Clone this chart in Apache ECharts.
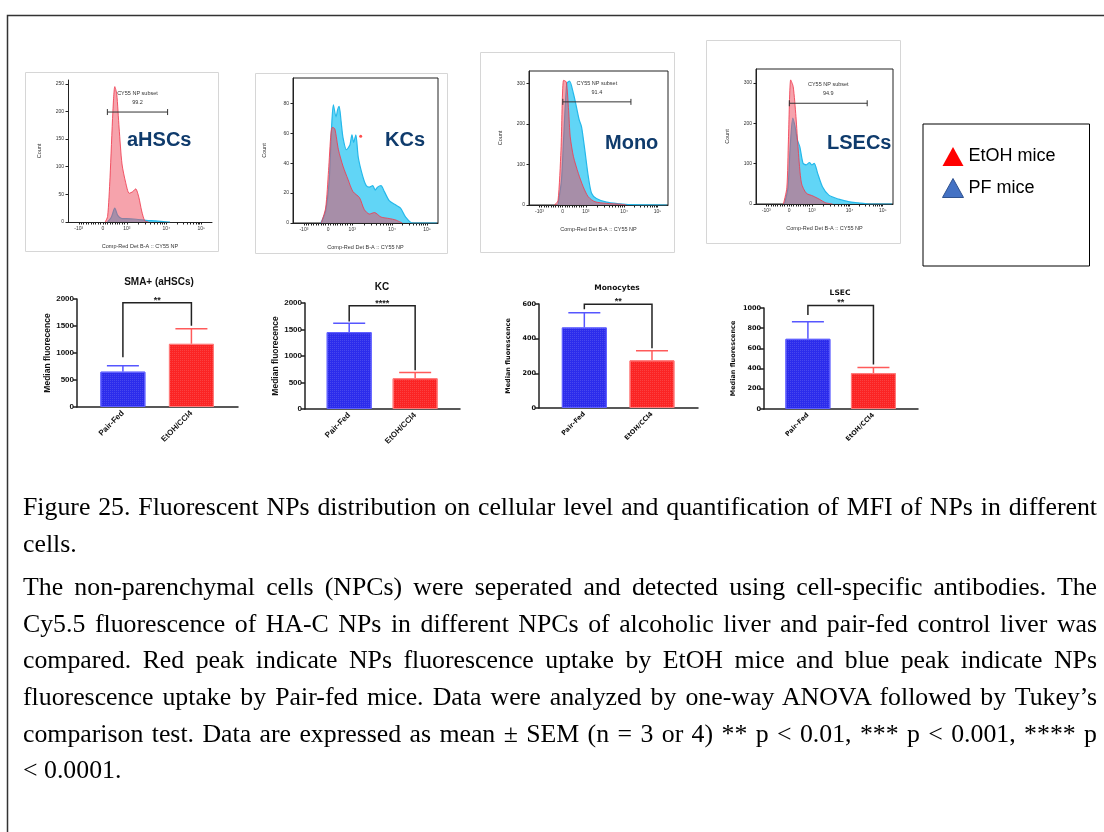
<!DOCTYPE html>
<html>
<head>
<meta charset="utf-8">
<script src="https://cdn.jsdelivr.net/npm/echarts@6/dist/echarts.min.js"></script>
<style>
  body { margin: 0; background: #fff; }
  #chart { position: absolute; left: 0; top: 0; width: 1104px; height: 832px; }
  #caption {
    position: absolute; left: 23px; top: 489px; width: 1074px;
    font-family: 'Liberation Serif', 'Times New Roman', serif;
    font-size: 25.8px; line-height: 36.6px; color: #000; white-space: nowrap;
  }
  #caption .j { text-align: justify; text-align-last: justify; }
  #caption .p2 { margin-top: 7px; }
</style>
</head>
<body>
<div id="chart"></div>
<div id="caption">
  <div class="j">Figure 25. Fluorescent NPs distribution on cellular level and quantification of MFI of NPs in different</div>
  <div>cells.</div>
  <div class="j p2">The non-parenchymal cells (NPCs) were seperated and detected using cell-specific antibodies. The</div>
  <div class="j">Cy5.5 fluorescence of HA-C NPs in different NPCs of alcoholic liver and pair-fed control liver was</div>
  <div class="j">compared. Red peak indicate NPs fluorescence uptake by EtOH mice and blue peak indicate NPs</div>
  <div class="j">fluorescence uptake by Pair-fed mice. Data were analyzed by one-way ANOVA followed by Tukey’s</div>
  <div class="j">comparison test. Data are expressed as mean ± SEM (n = 3 or 4) ** p &lt; 0.01, *** p &lt; 0.001, **** p</div>
  <div>&lt; 0.0001.</div>
</div>
<script>
// histogram x values are in display units of the biexponential axis
// (-10^3 = -1, 0 = 0, 10^3 = 1, 10^4 = 2.65, 10^5 = 4.1)
const xTickVals = [-1, 0, 1, 2.65, 4.1]
const xTickText = ['-10³', '0', '10³', '10⁴', '10⁵']

// aHSCs
const hscPF = [[0.2, 0], [0.35, 8], [0.5, 25], [0.62, 12], [0.8, 6], [1.0, 6], [1.4, 5], [1.8, 3], [2.2, 2], [2.6, 0.5], [2.8, 0]]
const hscEtoh = [[0.1, 0], [0.2, 10], [0.3, 80], [0.42, 200], [0.5, 245], [0.58, 232], [0.68, 170], [0.8, 105], [0.95, 72], [1.1, 52], [1.25, 55], [1.37, 60], [1.5, 45], [1.62, 20], [1.75, 2], [1.9, 0]]
const hscYTicks = [0, 50, 100, 150, 200, 250]
const hscGate = [0.19, 2.7, 199]
const hscPct = '99.2'

// KCs
const kcPF = [[-0.3, 0], [-0.1, 8], [0.05, 29], [0.15, 65], [0.22, 79], [0.33, 71], [0.4, 76], [0.46, 78], [0.54, 68], [0.62, 57], [0.76, 49], [0.9, 52], [0.99, 59], [1.06, 54], [1.15, 59], [1.25, 44], [1.44, 31], [1.58, 25], [1.71, 24], [1.85, 25], [1.95, 22], [2.05, 24], [2.19, 25], [2.33, 21], [2.53, 15], [2.8, 12], [3.0, 10], [3.21, 4], [3.48, 0], [4.5, 0]]
const kcEtoh = [[-0.28, 0], [-0.1, 10], [0.02, 35], [0.12, 60], [0.18, 64], [0.28, 63], [0.43, 49], [0.62, 38], [0.83, 29], [1.03, 21], [1.3, 17], [1.5, 9], [1.71, 6], [1.92, 7], [2.19, 4], [2.53, 3], [2.8, 2], [3.07, 0]]
const kcYTicks = [0, 20, 40, 60, 80]
const kcMarker = [[1.35, 58]]

// Monocytes
const monoPF = [[-0.2, 0], [-0.05, 60], [0.05, 170], [0.18, 299], [0.3, 305], [0.47, 274], [0.61, 238], [0.72, 209], [0.82, 192], [0.96, 135], [1.11, 70], [1.25, 29], [1.46, 16], [1.9, 7], [2.47, 3], [2.9, 1], [4.5, 0]]
const monoEtoh = [[-0.35, 0], [-0.2, 10], [-0.07, 135], [0.04, 307], [0.16, 303], [0.26, 233], [0.33, 168], [0.47, 119], [0.68, 78], [0.89, 45], [1.11, 20], [1.4, 8], [1.9, 4], [2.47, 2], [2.75, 0]]
const monoYTicks = [0, 100, 200, 300]
const monoGate = [0.01, 2.95, 254]
const monoPct = '91.4'

// LSECs
const lsecPF = [[-0.2, 0], [-0.05, 40], [0.04, 134], [0.16, 213], [0.26, 192], [0.36, 159], [0.47, 142], [0.61, 101], [0.75, 97], [0.89, 103], [0.99, 97], [1.1, 101], [1.25, 76], [1.46, 43], [1.74, 22], [2.17, 12], [2.6, 6], [3.02, 3], [3.45, 0], [4.5, 0]]
const lsecEtoh = [[-0.25, 0], [-0.1, 40], [-0.03, 159], [0.07, 308], [0.18, 291], [0.3, 217], [0.4, 134], [0.54, 52], [0.75, 27], [1.04, 20], [1.32, 12], [1.6, 3], [1.9, 0]]
const lsecYTicks = [0, 100, 200, 300]
const lsecGate = [0.01, 3.42, 250]
const lsecPct = '94.9'

// median fluorescence bar charts: [Pair-Fed, EtOH/CCl4]
const groups = ['Pair-Fed', 'EtOH/CCl4']
const smaMean = [655, 1170]
const smaSem = [110, 280]
const kcMean = [1450, 580]
const kcSem = [170, 110]
const monoMean = [465, 275]
const monoSem = [85, 55]
const lsecMean = [695, 355]
const lsecSem = [170, 55]
// significance brackets: [top, left leg end, right leg end]
const smaBracket = [1930, 920, 1506]
const kcBracket = [1950, 1650, 730]
const monoBracket = [598, 569, 344]
const lsecBracket = [1025, 930, 440]

const sans = 'Liberation Sans'
const histRange = [-1.45, 4.55]
const xTicks = [...xTickVals]
for (let i = -9; i <= 9; i++) if (i !== 0) xTicks.push(i / 10)
for (let k = 2; k <= 9; k++) {
  xTicks.push(1 + Math.log10(k) * 1.65)
  xTicks.push(2.65 + Math.log10(k) * 1.45)
}

const grids = []
const xAxes = []
const yAxes = []
const series = []

function addHist(box, ymax, yTicks, pf, etoh, framed, gate, pct) {
  const i = grids.length
  grids.push({ left: box[0], top: box[1], width: box[2], height: box[3], show: framed, borderColor: '#222', borderWidth: 1 })
  xAxes.push({
    gridIndex: i, type: 'value', min: histRange[0], max: histRange[1],
    name: 'Comp-Red Det B-A :: CY55 NP', nameLocation: 'middle', nameGap: 21,
    nameTextStyle: { fontSize: 5.5, color: '#333', fontFamily: sans },
    axisLine: { show: true, onZero: false, lineStyle: { color: '#222', width: 1 } },
    axisTick: { show: true, customValues: xTicks, length: 2.5, lineStyle: { color: '#222' } },
    axisLabel: { customValues: xTickVals, formatter: (v) => xTickText[xTickVals.indexOf(v)], fontSize: 5, color: '#333', margin: 4, fontFamily: sans },
    splitLine: { show: false },
  })
  yAxes.push({
    gridIndex: i, type: 'value', min: 0, max: ymax,
    name: 'Count', nameLocation: 'middle', nameGap: 26, nameRotate: 90,
    nameTextStyle: { fontSize: 5.5, color: '#333', fontFamily: sans },
    axisLine: { show: true, onZero: false, lineStyle: { color: '#222', width: 1 } },
    axisTick: { show: true, customValues: yTicks, length: 2.5, lineStyle: { color: '#222' } },
    axisLabel: { customValues: yTicks, formatter: (v) => String(v), fontSize: 5, color: '#333', margin: 4, fontFamily: sans },
    splitLine: { show: false },
  })
  series.push({
    type: 'line', name: 'PF mice', xAxisIndex: i, yAxisIndex: i, data: pf,
    smooth: 0.25, symbol: 'none', z: 2,
    itemStyle: { color: '#25b8ea' },
    lineStyle: { color: '#25b8ea', width: 1.2 },
    areaStyle: { color: 'rgb(80,208,245)', opacity: 0.9 },
  })
  series.push({
    type: 'line', name: 'EtOH mice', xAxisIndex: i, yAxisIndex: i, data: etoh,
    smooth: 0.25, symbol: 'none', z: 3,
    itemStyle: { color: '#f04a5a' },
    lineStyle: { color: 'rgba(240,60,80,0.85)', width: 1 },
    areaStyle: { color: 'rgb(238,72,90)', opacity: 0.5 },
  })
  if (gate) {
    series.push({
      type: 'custom', xAxisIndex: i, yAxisIndex: i, data: [gate], z: 5, silent: true,
      renderItem: (params, api) => {
        const a = api.coord([api.value(0), api.value(2)])
        const b = api.coord([api.value(1), api.value(2)])
        const st = { stroke: '#333', lineWidth: 1 }
        return {
          type: 'group',
          children: [
            { type: 'line', shape: { x1: a[0], y1: a[1], x2: b[0], y2: b[1] }, style: st },
            { type: 'line', shape: { x1: a[0], y1: a[1] - 3, x2: a[0], y2: a[1] + 3 }, style: st },
            { type: 'line', shape: { x1: b[0], y1: b[1] - 3, x2: b[0], y2: b[1] + 3 }, style: st },
            {
              type: 'text', x: (a[0] + b[0]) / 2, y: a[1] - 5,
              style: { text: 'CY55 NP subset\n' + pct, align: 'center', verticalAlign: 'bottom', fontSize: 5.5, lineHeight: 9, fill: '#333', fontFamily: sans },
            },
          ],
        }
      },
    })
  }
  return i
}

const barFill = ['#2c2cec', '#fb2424']
const barEdge = ['#6060ff', '#ff7a7a']
const errColor = ['#5656ff', '#ff5a5a']

function addBars(box, ymax, yInt, mean, sem, bracket, stars, spaced) {
  const i = grids.length
  const tickFont = spaced
    ? { fontSize: 6.5, fontWeight: 'bold', fontFamily: 'DejaVu Sans', color: '#111' }
    : { fontSize: 8, fontWeight: 'bold', fontFamily: sans, color: '#111' }
  grids.push({ left: box[0], top: box[1], width: box[2], height: box[3] })
  xAxes.push({
    gridIndex: i, type: 'value', min: -0.67, max: 1.68,
    axisLine: { show: true, onZero: false, lineStyle: { color: '#222', width: 1.5 } },
    axisTick: { show: false },
    axisLabel: { customValues: [0, 1], formatter: (v) => groups[v], rotate: 45, margin: 5, ...tickFont },
    splitLine: { show: false },
  })
  yAxes.push({
    gridIndex: i, type: 'value', min: 0, max: ymax, interval: yInt,
    name: spaced ? 'Median fluorescence' : 'Median fluorecence',
    nameLocation: 'middle', nameGap: spaced ? 27 : 25, nameRotate: 90,
    nameTextStyle: spaced
      ? { fontSize: 6.5, fontWeight: 'bold', fontFamily: 'DejaVu Sans', color: '#111' }
      : { fontSize: 8.5, fontWeight: 'bold', fontFamily: sans, color: '#111' },
    axisLine: { show: true, onZero: false, lineStyle: { color: '#222', width: 1.5 } },
    axisTick: { show: true, length: 4, lineStyle: { color: '#222', width: 1.5 } },
    axisLabel: { margin: 3, formatter: (v) => String(v), ...tickFont },
    splitLine: { show: false },
  })
  series.push({
    type: 'bar', xAxisIndex: i, yAxisIndex: i, barWidth: 45,
    data: mean.map((v, k) => ({
      value: [k, v],
      itemStyle: {
        color: barFill[k], borderColor: barEdge[k], borderWidth: 1,
        decal: { symbol: 'rect', symbolSize: 1, dashArrayX: [1, 1], dashArrayY: [1, 1], color: 'rgba(255,255,255,0.13)' },
      },
    })),
  })
  series.push({
    type: 'custom', xAxisIndex: i, yAxisIndex: i, z: 1, silent: true,
    data: mean.map((v, k) => [k, v, sem[k]]),
    renderItem: (params, api) => {
      const x = api.value(0)
      const m = api.value(1)
      const s = api.value(2)
      const p0 = api.coord([x, m])
      const p1 = api.coord([x, m + s])
      const st = { stroke: errColor[params.dataIndex], lineWidth: 1.5 }
      return {
        type: 'group',
        children: [
          { type: 'line', shape: { x1: p0[0], y1: p0[1], x2: p1[0], y2: p1[1] }, style: st },
          { type: 'line', shape: { x1: p1[0] - 16, y1: p1[1], x2: p1[0] + 16, y2: p1[1] }, style: st },
        ],
      }
    },
  })
  series.push({
    type: 'custom', xAxisIndex: i, yAxisIndex: i, z: 4, silent: true,
    data: [[0, bracket[0]]],
    renderItem: (params, api) => {
      const l0 = api.coord([0, bracket[1]])
      const t0 = api.coord([0, bracket[0]])
      const t1 = api.coord([1, bracket[0]])
      const l1 = api.coord([1, bracket[2]])
      return {
        type: 'group',
        children: [
          { type: 'polyline', shape: { points: [l0, t0, t1, l1] }, style: { stroke: '#222', lineWidth: 1.5, fill: null } },
          {
            type: 'text', x: (t0[0] + t1[0]) / 2, y: t0[1] + 2,
            style: { text: stars, align: 'center', verticalAlign: 'bottom', fontSize: 9, fontWeight: 'bold', fill: '#222', fontFamily: sans },
          },
        ],
      }
    },
  })
}

addHist([68, 80, 144, 142], 257, hscYTicks, hscPF, hscEtoh, false, hscGate, hscPct)
const kcIdx = addHist([293, 78, 145, 145], 97, kcYTicks, kcPF, kcEtoh, true)
series.push({
  type: 'scatter', xAxisIndex: kcIdx, yAxisIndex: kcIdx, data: kcMarker,
  symbolSize: 3, itemStyle: { color: '#ff2020' }, z: 6, silent: true,
})
addHist([529, 71, 139, 134], 330, monoYTicks, monoPF, monoEtoh, true, monoGate, monoPct)
addHist([756, 69, 137, 135], 335, lsecYTicks, lsecPF, lsecEtoh, true, lsecGate, lsecPct)

addBars([77, 299, 161, 108], 2000, 500, smaMean, smaSem, smaBracket, '**', false)
addBars([305, 303, 155, 106], 2000, 500, kcMean, kcSem, kcBracket, '****', false)
addBars([539, 304, 159, 104], 600, 200, monoMean, monoSem, monoBracket, '**', true)
addBars([764, 308, 154, 101], 1000, 200, lsecMean, lsecSem, lsecBracket, '**', true)

function panel(x, y, w, h) {
  return { type: 'rect', silent: true, z: 0, shape: { x: x + 0.5, y: y + 0.5, width: w, height: h }, style: { fill: null, stroke: '#d6d6d6', lineWidth: 1 } }
}
function bigLabel(text, x, y) {
  return { type: 'text', silent: true, z: 10, x, y, style: { text, fontSize: 20, fontWeight: 'bold', fontFamily: sans, fill: '#0f3b6c', verticalAlign: 'middle' } }
}
function barTitle(text, x, y, spaced) {
  return {
    type: 'text', silent: true, z: 10, x, y,
    style: { text, align: 'center', verticalAlign: 'middle', fontWeight: 'bold', fill: '#111', fontSize: spaced ? 7.5 : 10, fontFamily: spaced ? 'DejaVu Sans' : sans },
  }
}

const chart = echarts.init(document.getElementById('chart'))
chart.setOption({
  animation: false,
  backgroundColor: '#fff',
  grid: grids,
  xAxis: xAxes,
  yAxis: yAxes,
  series,
  legend: {
    orient: 'vertical', left: 923, top: 124,
    padding: [23, 34, 68, 19], itemGap: 12, itemWidth: 21, itemHeight: 19,
    icon: 'triangle', borderColor: '#000', borderWidth: 1, selectedMode: false,
    textStyle: { fontSize: 18, fontFamily: sans, color: '#000' },
    data: [
      { name: 'EtOH mice', itemStyle: { color: '#ff0000', borderWidth: 0 } },
      { name: 'PF mice', itemStyle: { color: '#4472c4', borderColor: '#2f528f', borderWidth: 1 } },
    ],
  },
  graphic: [
    { type: 'rect', silent: true, shape: { x: 7.5, y: 15.5, width: 1200, height: 1000 }, style: { fill: null, stroke: '#333', lineWidth: 1.5 } },
    panel(25, 72, 193, 179),
    panel(255, 73, 192, 180),
    panel(480, 52, 194, 200),
    panel(706, 40, 194, 203),
    bigLabel('aHSCs', 127, 140),
    bigLabel('KCs', 385, 140),
    bigLabel('Mono', 605, 143),
    bigLabel('LSECs', 827, 143),
    barTitle('SMA+ (aHSCs)', 159, 282, false),
    barTitle('KC', 382, 287, false),
    barTitle('Monocytes', 617, 288, true),
    barTitle('LSEC', 840, 293, true),
  ],
})
</script>
</body>
</html>
